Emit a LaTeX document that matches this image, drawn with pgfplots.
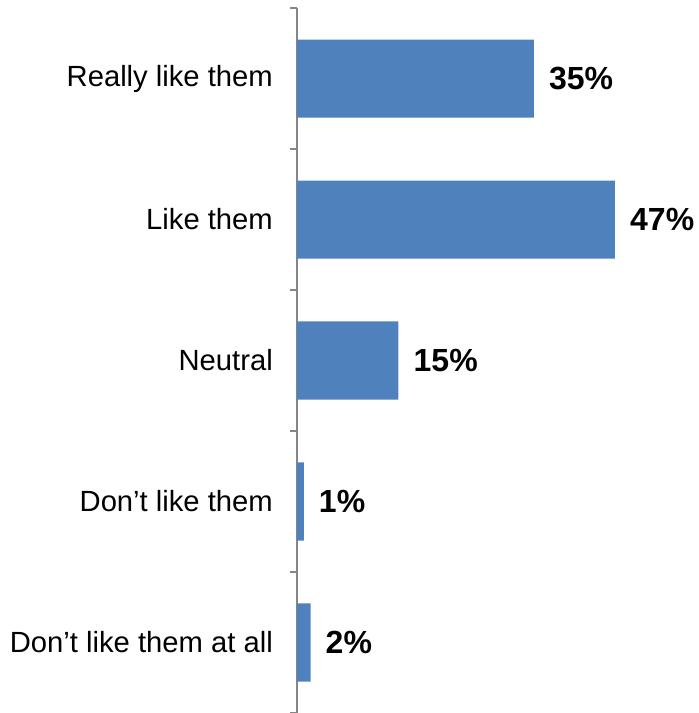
\documentclass[border=0pt]{standalone}
\usepackage{pgfplots}
\pgfplotsset{compat=1.18}
\usepackage{fontspec}
\setmainfont{Liberation Sans}
\definecolor{barblue}{HTML}{4F81BD}
\definecolor{axgray}{HTML}{868686}
\begin{document}
\begin{tikzpicture}[x=1pt,y=1pt]
\path[use as bounding box] (0,0) rectangle (699,713);
\begin{axis}[
  at={(297pt,0pt)}, anchor=south west,
  scale only axis,
  width=318pt, height=705pt,
  xbar, bar width=78pt,
  xmin=0, xmax=47,
  ymin=-0.5, ymax=4.5,
  axis x line=none,
  axis y line*=left,
  y axis line style={axgray, line width=1.2pt},
  ytick={0,1,2,3,4},
  yticklabels={Don’t like them at all, Don’t like them, Neutral, Like them, Really like them},
  major tick length=0pt,
  minor ytick={-0.5,0.5,1.5,2.5,3.5,4.5},
  minor tick length=7pt,
  tick align=outside,
  tick pos=left,
  minor tick style={axgray, line width=1.2pt},
  yticklabel style={anchor=east, inner sep=0pt, xshift=-24pt, font=\fontsize{29.2}{32}\selectfont, text=black},
  /pgf/number format/assume math mode=true,
  point meta=x,
  nodes near coords={\pgfmathprintnumber{\pgfplotspointmeta}\%},
  nodes near coords style={anchor=west, inner sep=0pt, xshift=15pt, font=\fontsize{32}{35}\selectfont\bfseries},
  clip=false,
]
\addplot[fill=barblue, draw=none] coordinates {(2,0) (1,1) (15,2) (47,3) (35,4)};
\end{axis}
\end{tikzpicture}
\end{document}
